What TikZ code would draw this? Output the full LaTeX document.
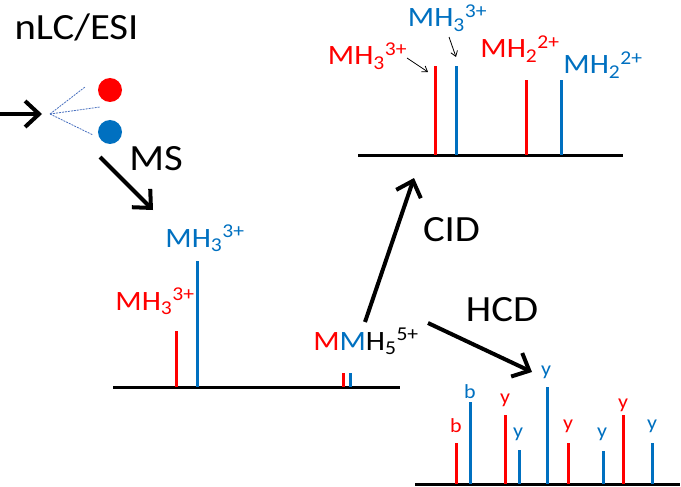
\documentclass[tikz,border=0pt]{standalone}
\usepackage{fontspec}
\setmainfont{Carlito}[FakeStretch=1.1]
\usetikzlibrary{arrows.meta}
\definecolor{pred}{RGB}{255,0,0}
\definecolor{pblue}{RGB}{0,112,192}
\definecolor{pdash}{RGB}{70,110,190}
\begin{document}
\begin{tikzpicture}[x=1pt,y=-1pt,
  bigarrow/.style={line width=4pt,-{Straight Barb[length=14pt,width=26pt]}},
  thinarrow/.style={line width=0.8pt,-{Straight Barb[length=5pt,width=7pt]}},
  peak/.style={line width=3pt},
  axisline/.style={line width=3pt},
  big/.style={font=\fontsize{37}{40}\selectfont,inner sep=0pt},
  lbl/.style={font=\fontsize{28}{30}\selectfont,inner sep=0pt,anchor=base},
  frag/.style={font=\fontsize{20}{22}\selectfont,inner sep=0pt},
  dotl/.style={pdash,line width=0.8pt,dash pattern=on 2pt off 1pt}]
\useasboundingbox (0,0) rectangle (681,487);

% source
\node[big] (title) at (76.5,27) {nLC/ESI};
\coordinate (inS) at (0,114);
\coordinate (inE) at (42,114);
\draw[bigarrow] (inS) -- (inE);
\coordinate (sp) at (50,114);
\coordinate (d1) at (85,87);
\coordinate (d2) at (100,107);
\coordinate (d3) at (93,135);
\draw[dotl] (sp) -- (d1);
\draw[dotl] (sp) -- (d2);
\draw[dotl] (sp) -- (d3);
\node[circle,fill=pred,minimum size=24pt,inner sep=0pt] (rdot) at (110,90) {};
\node[circle,fill=pblue,minimum size=24pt,inner sep=0pt] (bdot) at (110,132) {};

% MS arrow
\node[big] (ms) at (156,158.5) {MS};
\coordinate (msS) at (100,157);
\coordinate (msE) at (153,210);
\draw[bigarrow] (msS) -- (msE);

% spectrum 1
\coordinate (ax1a) at (113,387);
\coordinate (ax1b) at (400,387);
\draw[axisline] (ax1a) -- (ax1b);
\draw[peak,pred] (176,387) -- (176,331);
\draw[peak,pblue] (197,387) -- (197,261);
\draw[peak,pred] (343,387) -- (343,373);
\draw[peak,pblue] (350,387) -- (350,373);
\node[lbl,pred] (l1r) at (155,310) {MH\textsubscript{3}\textsuperscript{3+}};
\node[lbl,pblue] (l1b) at (205,247) {MH\textsubscript{3}\textsuperscript{3+}};
\node[lbl] (mm) at (366,350) {\textcolor{pred}{M}\textcolor{pblue}{M}H\textsubscript{5}\textsuperscript{5+}};

% CID
\coordinate (cidS) at (365,322);
\coordinate (cidE) at (414,178);
\draw[bigarrow] (cidS) -- (cidE);
\node[big] (cid) at (451.5,230) {CID};

% spectrum 2
\coordinate (ax2a) at (358,155);
\coordinate (ax2b) at (623,155);
\draw[axisline] (ax2a) -- (ax2b);
\draw[peak,pred] (435,155) -- (435,66);
\draw[peak,pblue] (456,155) -- (456,66);
\draw[peak,pred] (526,155) -- (526,80);
\draw[peak,pblue] (561,155) -- (561,80);
\node[lbl,pred] (l2r) at (367.5,65) {MH\textsubscript{3}\textsuperscript{3+}};
\node[lbl,pblue] (l2b) at (447.5,27) {MH\textsubscript{3}\textsuperscript{3+}};
\node[lbl,pred] (l2r2) at (520,58) {MH\textsubscript{2}\textsuperscript{2+}};
\node[lbl,pblue] (l2b2) at (603,74) {MH\textsubscript{2}\textsuperscript{2+}};
\coordinate (a1s) at (407,58);
\coordinate (a1e) at (428,72);
\coordinate (a2s) at (449,37);
\coordinate (a2e) at (456,57);
\draw[thinarrow] (a1s) -- (a1e);
\draw[thinarrow] (a2s) -- (a2e);

% HCD
\coordinate (hcdS) at (428,323);
\coordinate (hcdE) at (532,372);
\draw[bigarrow] (hcdS) -- (hcdE);
\node[big] (hcd) at (502,309.5) {HCD};

% spectrum 3
\coordinate (ax3a) at (415,484);
\coordinate (ax3b) at (680,484);
\draw[axisline] (ax3a) -- (ax3b);
\draw[peak,pred] (456,484) -- (456,443);
\draw[peak,pblue] (470,484) -- (470,402);
\draw[peak,pred] (505,484) -- (505,415);
\draw[peak,pblue] (519,484) -- (519,450);
\draw[peak,pblue] (547,484) -- (547,387);
\draw[peak,pred] (568,484) -- (568,443);
\draw[peak,pblue] (603,484) -- (603,451);
\draw[peak,pred] (623,484) -- (623,415);
\draw[peak,pblue] (652,484) -- (652,443);
\node[frag,pred] (f1) at (456,426) {b};
\node[frag,pblue] (f2) at (470,392) {b};
\node[frag,pred] (f3) at (505,400) {y};
\node[frag,pblue] (f4) at (518,434) {y};
\node[frag,pblue] (f5) at (546,372) {y};
\node[frag,pred] (f6) at (568,426) {y};
\node[frag,pblue] (f7) at (602,434) {y};
\node[frag,pred] (f8) at (623,405) {y};
\node[frag,pblue] (f9) at (652,426) {y};
\end{tikzpicture}
\end{document}
